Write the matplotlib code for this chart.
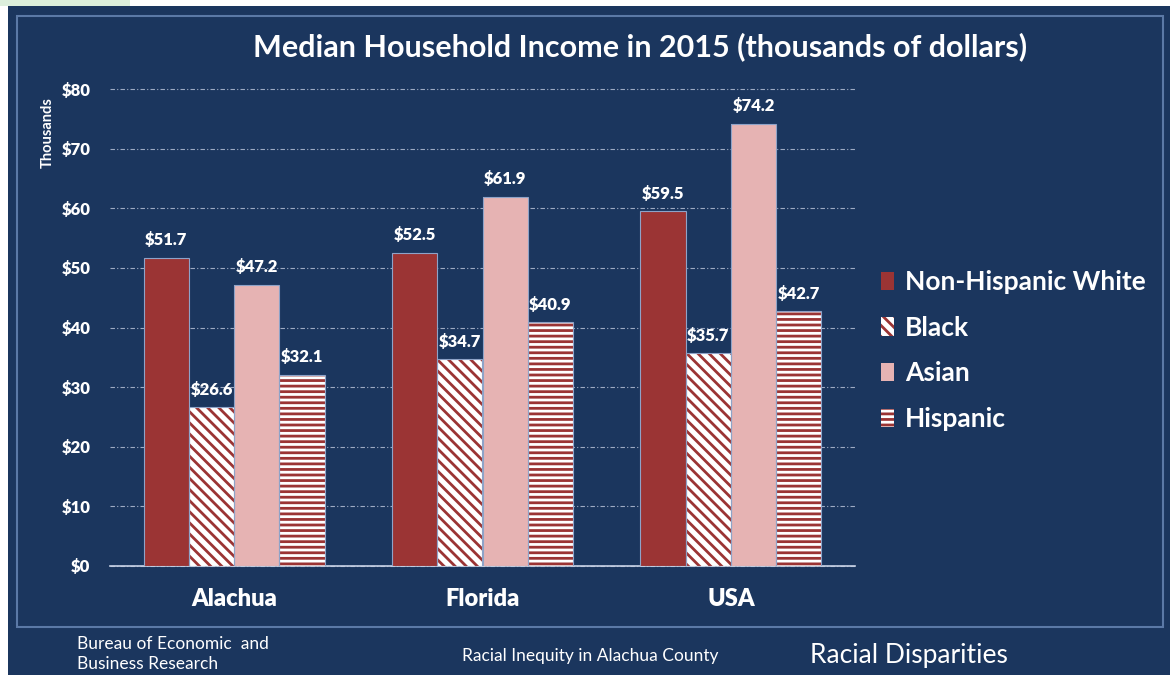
import matplotlib.pyplot as plt
import matplotlib.patches as mpatches
import numpy as np

plt.rcParams['font.family'] = ['Lato', 'DejaVu Sans']
plt.rcParams['hatch.linewidth'] = 2.0

regions = ['Alachua', 'Florida', 'USA']
groups = ['Non-Hispanic White', 'Black', 'Asian', 'Hispanic']
income = {
    'Non-Hispanic White': [51.7, 52.5, 59.5],
    'Black': [26.6, 34.7, 35.7],
    'Asian': [47.2, 61.9, 74.2],
    'Hispanic': [32.1, 40.9, 42.7],
}
yticks = [0, 10, 20, 30, 40, 50, 60, 70, 80]

navy = '#1b365e'
dark_red = '#9b3434'
pink = '#e6b3b3'
edge = '#8ea3c8'
styles = {
    'Non-Hispanic White': dict(color=dark_red, hatch=None, ec=dark_red),
    'Black': dict(color='white', hatch='\\\\\\', ec=dark_red),
    'Asian': dict(color=pink, hatch=None, ec=pink),
    'Hispanic': dict(color='white', hatch='---', ec=dark_red),
}

fig = plt.figure(figsize=(11.7, 6.75), dpi=100, facecolor='white')

# slide background and frame
fig.patches.append(mpatches.Rectangle((8 / 1170, 0), 1, 1 - 6 / 675, transform=fig.transFigure,
                                      facecolor=navy, edgecolor='none', zorder=-3))
fig.patches.append(mpatches.Rectangle((0, 1 - 6 / 675), 130 / 1170, 6 / 675, transform=fig.transFigure,
                                      facecolor='#dcefdc', edgecolor='none', zorder=-3))
fig.patches.append(mpatches.Rectangle((17 / 1170, 1 - 627 / 675), (1163 - 17) / 1170, (627 - 16) / 675,
                                      transform=fig.transFigure, facecolor='none',
                                      edgecolor='#5b79a6', linewidth=1.5, zorder=-2))

ax = fig.add_axes([110 / 1170, 1 - 566 / 675, (855 - 110) / 1170, (566 - 89) / 675])
ax.set_facecolor('none')

x = np.arange(len(regions))
width = 0.182
handles = []
for i, g in enumerate(groups):
    st = styles[g]
    pos = x + (i - 1.5) * width
    bars = ax.bar(pos, income[g], width, color=st['color'], hatch=st['hatch'],
                  edgecolor=st['ec'], linewidth=0, zorder=3)
    ax.bar(pos, income[g], width, fill=False, edgecolor=edge, linewidth=0.8, zorder=4)
    handles.append(bars)
    for px, v in zip(pos, income[g]):
        ax.text(px, v + 1.6, f'${v:.1f}', ha='center', va='bottom', color='white',
                fontsize=12, fontweight='heavy', zorder=5)

ax.set_xlim(-0.5, 2.5)
ax.set_ylim(0, 80)
ax.set_yticks(yticks)
ax.set_yticklabels([f'${t}' for t in yticks])
ax.set_xticks(x)
ax.set_xticklabels(regions)
ax.tick_params(axis='y', length=0, colors='white', labelsize=12, pad=14)
ax.tick_params(axis='x', length=0, colors='white', labelsize=17, pad=16)
for lab in ax.get_xticklabels() + ax.get_yticklabels():
    lab.set_fontweight('heavy')

ax.grid(axis='y', color='#9eabc4', linestyle='-.', linewidth=0.8, dashes=(4, 2, 1, 2), zorder=0)
for t in ax.yaxis.get_gridlines():
    t.set_clip_on(False)
for side in ['top', 'right', 'left']:
    ax.spines[side].set_visible(False)
ax.spines['bottom'].set_color('#c9d3e6')
ax.spines['bottom'].set_linewidth(1.2)

fig.text(48 / 1170, 1 - 133 / 675, 'Thousands', rotation=90, ha='center', va='center',
         color='white', fontsize=10.5, fontweight='bold')

fig.text(640 / 1170, 1 - 47 / 675, 'Median Household Income in 2015 (thousands of dollars)',
         ha='center', va='center', color='white', fontsize=22, fontweight='bold')

leg = fig.legend(handles, groups, loc='upper left', bbox_to_anchor=(868 / 1170, 1 - 257 / 675),
                 frameon=False, fontsize=19, labelcolor='white', handlelength=0.5,
                 handleheight=0.7, handletextpad=0.4, labelspacing=0.82, borderpad=0)
for t in leg.get_texts():
    t.set_fontweight('bold')

foot = ['Liberation Sans Narrow', 'Lato', 'DejaVu Sans']
fig.text(77 / 1170, 1 - 654 / 675, 'Bureau of Economic  and\nBusiness Research', ha='left',
         va='center', color='white', fontsize=12.5, family=foot, linespacing=1.3)
fig.text(590 / 1170, 1 - 656 / 675, 'Racial Inequity in Alachua County', ha='center',
         va='center', color='white', fontsize=12.5, family=foot)
fig.text(810 / 1170, 1 - 655 / 675, 'Racial Disparities', ha='left', va='center',
         color='white', fontsize=19, family=foot)

fig.savefig('out.png', dpi=100, facecolor=fig.get_facecolor())
